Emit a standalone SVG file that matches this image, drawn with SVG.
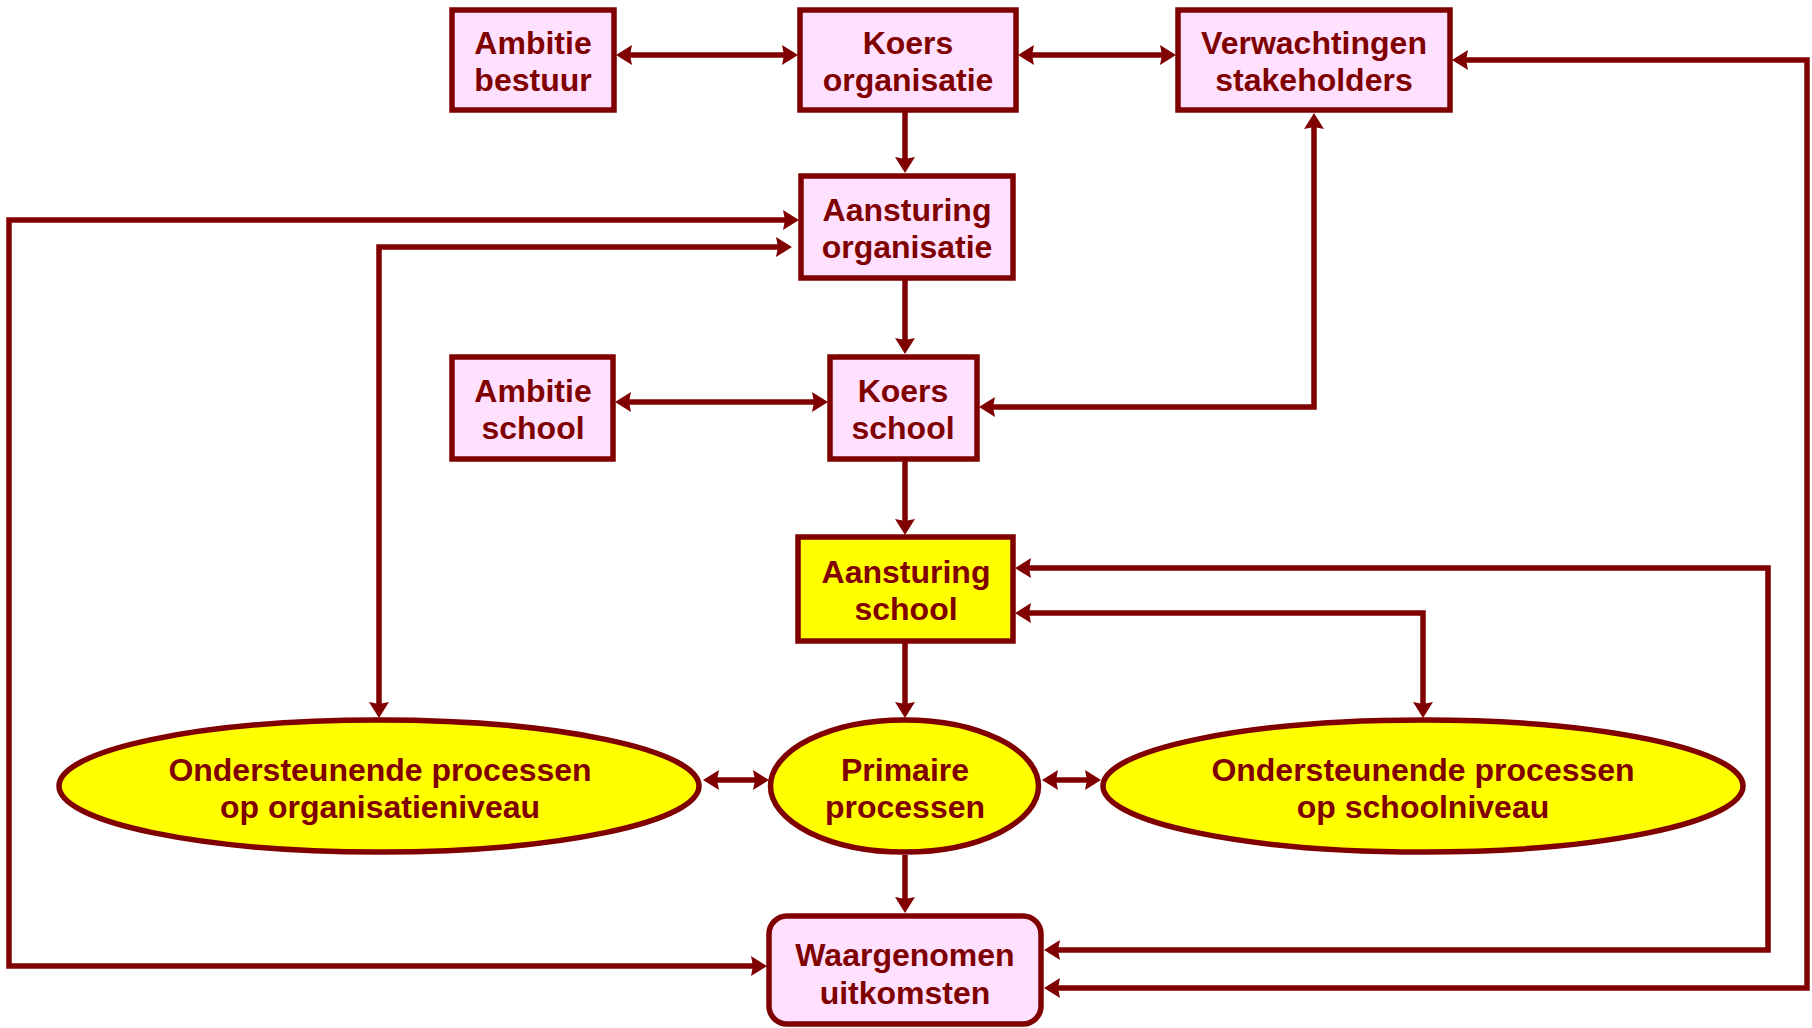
<svg xmlns="http://www.w3.org/2000/svg" width="1812" height="1028" viewBox="0 0 1812 1028">
<style>
.box{fill:#FFE1FF;stroke:#800000;stroke-width:5.5}
.yel{fill:#FFFF00;stroke:#800000;stroke-width:5.5}
.t{font-family:"Liberation Sans",Arial,sans-serif;font-weight:bold;font-size:32px;fill:#800000;text-anchor:middle}
.c{fill:none;stroke:#800000;stroke-width:5.5}
.b{marker-start:url(#ah);marker-end:url(#ah)}
.e{marker-end:url(#ah)}
</style>
<defs>
<marker id="ah" markerUnits="userSpaceOnUse" viewBox="0 0 17 22" markerWidth="17" markerHeight="22" refX="6" refY="11" orient="auto-start-reverse">
<path d="M0,1 L16,11 L0,21 L2,11 z" fill="#800000"/>
</marker>
</defs>
<rect width="1812" height="1028" fill="#fff"/>
<g id="connectors">
<path class="c b" d="M626,55 H788"/>
<path class="c b" d="M1028,55 H1166"/>
<path class="c e" d="M905,112 V163"/>
<path class="c b" d="M789,220 H9 V966 H757"/>
<path class="c b" d="M782,247 H379 V708"/>
<path class="c e" d="M905,280 V344"/>
<path class="c b" d="M625,402 H818"/>
<path class="c b" d="M989,407 H1314 V123"/>
<path class="c e" d="M905,461 V525"/>
<path class="c b" d="M1025,568 H1768 V950 H1054"/>
<path class="c b" d="M1025,613 H1423 V708"/>
<path class="c e" d="M905,643 V708"/>
<path class="c b" d="M713,780 H759"/>
<path class="c b" d="M1052,780 H1091"/>
<path class="c e" d="M905,855 V903"/>
<path class="c b" d="M1462,60 H1807 V988 H1054"/>
</g>
<g id="ambitie-bestuur"><rect class="box" x="452" y="10" width="162" height="100"/><text class="t" x="533" y="54">Ambitie</text><text class="t" x="533" y="91">bestuur</text></g>
<g id="koers-organisatie"><rect class="box" x="800" y="10" width="216" height="100"/><text class="t" x="908" y="54">Koers</text><text class="t" x="908" y="91">organisatie</text></g>
<g id="verwachtingen-stakeholders"><rect class="box" x="1178" y="10" width="272" height="100"/><text class="t" x="1314" y="54">Verwachtingen</text><text class="t" x="1314" y="91">stakeholders</text></g>
<g id="aansturing-organisatie"><rect class="box" x="801" y="176" width="212" height="102"/><text class="t" x="907" y="221">Aansturing</text><text class="t" x="907" y="258">organisatie</text></g>
<g id="ambitie-school"><rect class="box" x="452" y="357" width="161" height="102"/><text class="t" x="533" y="402">Ambitie</text><text class="t" x="533" y="439">school</text></g>
<g id="koers-school"><rect class="box" x="830" y="357" width="147" height="102"/><text class="t" x="903" y="402">Koers</text><text class="t" x="903" y="439">school</text></g>
<g id="aansturing-school"><rect class="yel" x="798" y="537" width="215" height="104"/><text class="t" x="906" y="583">Aansturing</text><text class="t" x="906" y="620">school</text></g>
<g id="ondersteunende-organisatie"><ellipse class="yel" cx="379" cy="786" rx="320" ry="66"/><text class="t" x="380" y="781">Ondersteunende processen</text><text class="t" x="380" y="818">op organisatieniveau</text></g>
<g id="primaire-processen"><ellipse class="yel" cx="904.5" cy="786" rx="134" ry="66"/><text class="t" x="905" y="781">Primaire</text><text class="t" x="905" y="818">processen</text></g>
<g id="ondersteunende-school"><ellipse class="yel" cx="1423" cy="786" rx="320" ry="66"/><text class="t" x="1423" y="781">Ondersteunende processen</text><text class="t" x="1423" y="818">op schoolniveau</text></g>
<g id="waargenomen-uitkomsten"><rect class="box" x="769" y="916" width="272" height="108" rx="18"/><text class="t" x="905" y="966">Waargenomen</text><text class="t" x="905" y="1004">uitkomsten</text></g>
</svg>
